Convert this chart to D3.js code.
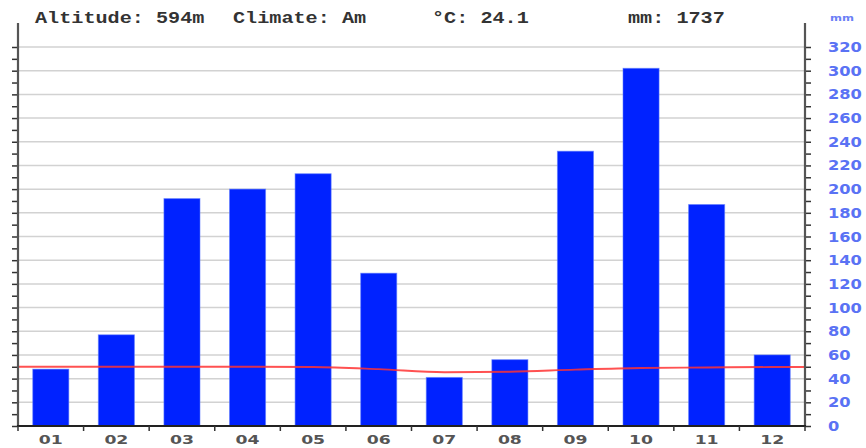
<!DOCTYPE html>
<html>
<head>
<meta charset="utf-8">
<script src="https://cdn.jsdelivr.net/npm/d3@7"></script>
<style>
  html, body { margin: 0; padding: 0; background: #fff; }
  svg { display: block; }
</style>
</head>
<body>
<svg id="chart" width="866" height="448"></svg>
<script>
// ---- data ----
const months = ["01","02","03","04","05","06","07","08","09","10","11","12"];
const precipitation = [48, 77, 192, 200, 213, 129, 41, 56, 232, 302, 187, 60]; // mm
const temperature = [25.0, 25.0, 25.0, 25.0, 24.9, 24.0, 22.7, 22.9, 23.8, 24.5, 24.7, 24.9]; // °C
const rightTicks = [0,20,40,60,80,100,120,140,160,180,200,220,240,260,280,300,320];
const headerTexts = ["Altitude: 594m", "Climate: Am", "°C: 24.1", "mm: 1737"];
const unitLabel = "mm";

// ---- layout ----
const left = 18, right = 805, bottom = 426, top320 = 47, axisTop = 23;
const svg = d3.select("#chart");

const x = d3.scaleBand().domain(months).range([left, right]).padding(0);
const y = d3.scaleLinear().domain([0, 320]).range([bottom, top320]);
const yT = d3.scaleLinear().domain([0, 160]).range([bottom, top320]); // 10°C = 20mm

// grid lines
svg.append("g").selectAll("line").data(rightTicks.filter(d => d > 0)).join("line")
  .attr("x1", left).attr("x2", right)
  .attr("y1", d => y(d)).attr("y2", d => y(d))
  .attr("stroke", "#d2d2d2").attr("stroke-width", 1.5);

// bars
const barW = x.bandwidth() * 0.55;
svg.append("g").selectAll("rect").data(months).join("rect")
  .attr("x", (d) => x(d) + (x.bandwidth() - barW) / 2)
  .attr("width", barW)
  .attr("y", (d, i) => y(precipitation[i]))
  .attr("height", (d, i) => y(0) - y(precipitation[i]))
  .attr("fill", "#0022ff")
  .attr("stroke", "rgba(90,120,255,0.55)")
  .attr("stroke-width", 1);

// temperature line
const pts = months.map((m, i) => [x(m) + x.bandwidth() / 2, yT(temperature[i])]);
pts.unshift([left, yT(temperature[0])]);
pts.push([right, yT(temperature[temperature.length - 1])]);
svg.append("path")
  .attr("d", d3.line().curve(d3.curveMonotoneX)(pts))
  .attr("fill", "none")
  .attr("stroke", "rgba(255,50,50,0.85)")
  .attr("stroke-width", 1.9);

// left axis (ticks only)
const minorTicks = d3.range(0, 330, 10);
const leftAxis = svg.append("g").attr("transform", `translate(${left},0)`)
  .call(d3.axisLeft(y).tickValues(minorTicks).tickSize(6).tickFormat(""));
leftAxis.select(".domain").remove();
leftAxis.selectAll(".tick line").attr("stroke", "#333").attr("stroke-width", 1.5);
svg.append("line").attr("x1", left).attr("x2", left).attr("y1", axisTop).attr("y2", bottom)
  .attr("stroke", "#555").attr("stroke-width", 2.2);

// right axis
const rightAxis = svg.append("g").attr("transform", `translate(${right},0)`)
  .call(d3.axisRight(y).tickValues(minorTicks).tickSize(6).tickFormat(""));
rightAxis.select(".domain").remove();
rightAxis.selectAll(".tick line").attr("stroke", "#333").attr("stroke-width", 1.5);
svg.append("line").attr("x1", right).attr("x2", right).attr("y1", axisTop).attr("y2", bottom)
  .attr("stroke", "#555").attr("stroke-width", 2.2);

// right axis labels
svg.append("g").selectAll("text").data(rightTicks).join("text")
  .attr("x", 828)
  .attr("y", d => y(d) + 5)
  .attr("font-family", "DejaVu Sans, sans-serif")
  .attr("font-weight", "bold")
  .attr("font-size", 13.5)
  .attr("fill", "#5a72f4")
  .attr("textLength", d => String(d).length * 11.3)
  .attr("lengthAdjust", "spacingAndGlyphs")
  .text(d => d);

// bottom axis
const bAxis = svg.append("g").attr("transform", `translate(0,${bottom})`)
  .call(d3.axisBottom(x).tickSize(0).tickFormat(""));
bAxis.select(".domain").remove();
svg.append("line").attr("x1", left - 1).attr("x2", right + 1).attr("y1", bottom).attr("y2", bottom)
  .attr("stroke", "#222").attr("stroke-width", 2);
const bounds = months.map(m => x(m)).concat([right]);
svg.append("g").selectAll("line").data(bounds).join("line")
  .attr("x1", d => d).attr("x2", d => d)
  .attr("y1", bottom).attr("y2", bottom + 5)
  .attr("stroke", "#333").attr("stroke-width", 1.5);
svg.append("g").selectAll("text").data(months).join("text")
  .attr("x", d => x(d) + x.bandwidth() / 2)
  .attr("y", 444)
  .attr("text-anchor", "middle")
  .attr("font-family", "DejaVu Sans, sans-serif")
  .attr("font-weight", "bold")
  .attr("font-size", 13)
  .attr("fill", "#555")
  .attr("textLength", 24)
  .attr("lengthAdjust", "spacingAndGlyphs")
  .text(d => d);

// header
const headerX = [35, 233, 432, 628];
svg.append("g").selectAll("text").data(headerTexts).join("text")
  .attr("x", (d, i) => headerX[i])
  .attr("y", 22.5)
  .attr("font-family", "Liberation Mono, monospace")
  .attr("font-weight", "bold")
  .attr("font-size", 16.5)
  .attr("fill", "#333")
  .attr("textLength", d => d.length * 12.1)
  .attr("lengthAdjust", "spacingAndGlyphs")
  .text(d => d);

svg.append("text")
  .attr("x", 830).attr("y", 21)
  .attr("font-family", "DejaVu Sans, sans-serif")
  .attr("font-weight", "bold")
  .attr("font-size", 9)
  .attr("fill", "#6a80f6")
  .attr("textLength", 24)
  .attr("lengthAdjust", "spacingAndGlyphs")
  .text(unitLabel);
</script>
</body>
</html>
